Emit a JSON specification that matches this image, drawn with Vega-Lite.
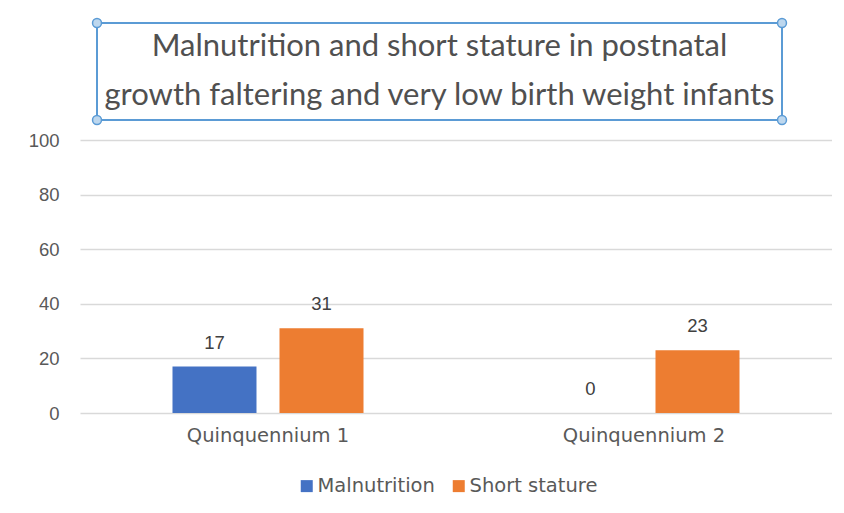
{
  "$schema": "https://vega.github.io/schema/vega-lite/v6.json",
  "background": "white",
  "padding": {"left": 28, "top": 14, "right": 0, "bottom": 0},
  "config": {"view": {"stroke": null}, "font": "Liberation Sans"},
  "spacing": 117,
  "bounds": "flush",
  "vconcat": [
    {
      "spacing": 16,
      "bounds": "flush",
      "hconcat": [
        {
          "width": 1,
          "height": 97,
          "data": {"values": []},
          "mark": {"type": "point", "opacity": 0}
        },
        {
          "width": 685,
          "height": 97,
          "view": {"stroke": "#5B9BD5", "strokeWidth": 2},
          "layer": [
            {
              "data": {"values": [
                {"line": 1, "text": "Malnutrition and short stature in postnatal"},
                {"line": 2, "text": "growth faltering and very low birth weight infants"}
              ]},
              "mark": {"type": "text", "font": "Lato", "fontSize": 31, "color": "#505050", "baseline": "middle"},
              "encoding": {
                "y": {"field": "line", "type": "ordinal", "axis": null, "scale": {"paddingOuter": 0.667}},
                "text": {"field": "text"}
              }
            },
            {
              "data": {"values": [
                {"hx": 0, "hy": 0}, {"hx": 1, "hy": 0}, {"hx": 0, "hy": 1}, {"hx": 1, "hy": 1}
              ]},
              "mark": {"type": "point", "filled": true, "fill": "#BDD7EE", "stroke": "#5B9BD5", "strokeWidth": 1.5, "size": 80, "opacity": 1},
              "encoding": {
                "x": {"field": "hx", "type": "quantitative", "axis": null, "scale": {"domain": [0, 1], "nice": false, "zero": false}},
                "y": {"field": "hy", "type": "quantitative", "axis": null, "scale": {"domain": [0, 1], "nice": false, "zero": false}}
              }
            }
          ],
          "resolve": {"scale": {"y": "independent"}}
        }
      ]
    },
    {
      "width": 752,
      "height": 273,
      "data": {"values": [
        {"period": "Quinquennium 1", "series": "Malnutrition", "value": 17},
        {"period": "Quinquennium 1", "series": "Short stature", "value": 31},
        {"period": "Quinquennium 2", "series": "Malnutrition", "value": 0},
        {"period": "Quinquennium 2", "series": "Short stature", "value": 23}
      ]},
      "encoding": {
        "x": {"field": "period", "type": "nominal", "title": null,
              "scale": {"paddingInner": 0.492, "paddingOuter": 0.246},
              "axis": {"labelAngle": 0, "domain": false, "ticks": false, "labelFont": "DejaVu Sans", "labelFontSize": 19.5, "labelColor": "#595959", "labelPadding": 13}},
        "xOffset": {"field": "series", "type": "nominal", "scale": {"paddingInner": 0.215}},
        "y": {"field": "value", "type": "quantitative", "title": null,
              "scale": {"domain": [0, 100], "nice": false},
              "axis": {"values": [0, 20, 40, 60, 80, 100], "domain": false, "ticks": false, "gridColor": "#D9D9D9", "gridWidth": 1.5, "labelFontSize": 18.5, "labelColor": "#595959", "labelPadding": 21}}
      },
      "layer": [
        {
          "mark": {"type": "bar"},
          "encoding": {
            "color": {"field": "series", "type": "nominal",
                      "scale": {"range": ["#4472C4", "#ED7D31"]},
                      "legend": {"orient": "none", "legendX": 217, "legendY": 453, "direction": "horizontal", "title": null, "symbolType": "square", "symbolSize": 144, "symbolStrokeWidth": 0, "labelOffset": 1, "labelFont": "DejaVu Sans", "labelFontSize": 19.5, "labelColor": "#595959", "columnPadding": 14}}
          }
        },
        {
          "mark": {"type": "text", "dy": -24, "baseline": "middle", "fontSize": 18.5, "color": "#404040"},
          "encoding": {"text": {"field": "value", "type": "quantitative"}}
        }
      ]
    }
  ]
}
